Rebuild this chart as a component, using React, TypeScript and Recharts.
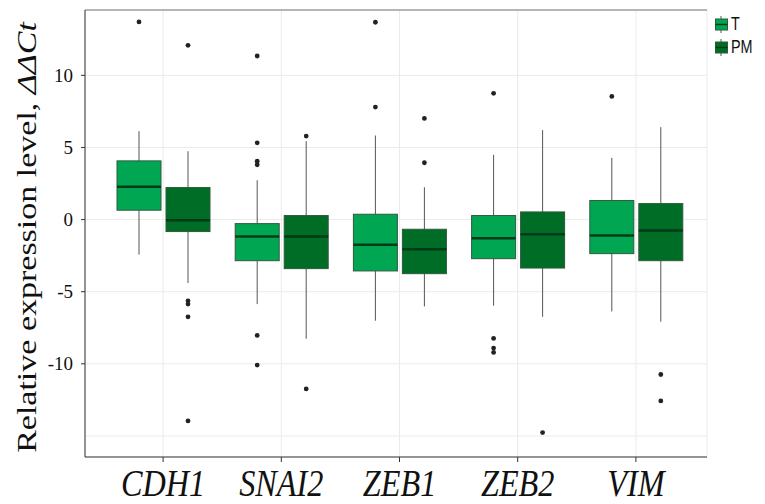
import React from 'react';
import { ComposedChart, Bar, XAxis, YAxis, CartesianGrid, ReferenceLine } from 'recharts';

const categories = ['CDH1', 'SNAI2', 'ZEB1', 'ZEB2', 'VIM'];

const tQ1 = [0.65, -2.85, -3.56, -2.71, -2.36];
const tMedian = [2.27, -1.18, -1.74, -1.3, -1.11];
const tQ3 = [4.07, -0.28, 0.37, 0.28, 1.32];
const tLow = [-2.43, -5.86, -7.01, -5.97, -6.37];
const tHigh = [6.13, 2.73, 5.83, 4.49, 4.28];
const tOutliers = [
  [13.7],
  [11.34, 5.32, 4.05, 3.8, -8.03, -10.09],
  [13.68, 7.8],
  [8.75, -8.24, -8.91, -9.21],
  [8.54],
];

const pmQ1 = [-0.83, -3.4, -3.75, -3.36, -2.85];
const pmMedian = [-0.05, -1.18, -2.06, -1.02, -0.76];
const pmQ3 = [2.22, 0.28, -0.67, 0.53, 1.11];
const pmLow = [-4.4, -8.26, -6.02, -6.74, -7.08];
const pmHigh = [4.74, 5.44, 2.24, 6.2, 6.41];
const pmOutliers = [
  [12.08, -5.63, -5.86, -6.74, -13.96],
  [5.79, -11.74],
  [7.01, 3.94],
  [-14.77],
  [-10.74, -12.57],
];

const yTicks = [-15, -10, -5, 0, 5, 10];
const yDomain = [-16.46, 14.53];
const seriesNames = ['T', 'PM'];

const T_FILL = '#00a651';
const PM_FILL = '#006d26';
const SERIF = 'Liberation Serif, Times New Roman, Times, serif';
const SANS = 'Liberation Sans, Arial, Helvetica, sans-serif';

const data = categories.map((name, i) => ({
  name,
  tRange: [tQ1[i], tQ3[i]],
  t: { q1: tQ1[i], median: tMedian[i], q3: tQ3[i], low: tLow[i], high: tHigh[i], outliers: tOutliers[i] },
  pmRange: [pmQ1[i], pmQ3[i]],
  pm: { q1: pmQ1[i], median: pmMedian[i], q3: pmQ3[i], low: pmLow[i], high: pmHigh[i], outliers: pmOutliers[i] },
}));

const makeBoxShape = (key: 't' | 'pm', fill: string) => (props: any) => {
  const { x, y, width, height, payload } = props;
  const s = payload[key];
  const top = Math.min(y, y + height);
  const h = Math.abs(height);
  const ppu = h / (s.q3 - s.q1);
  const py = (v: number) => top + (s.q3 - v) * ppu;
  const cx = x + width / 2;
  return (
    <g>
      <line x1={cx} x2={cx} y1={py(s.high)} y2={top} stroke="#555" strokeWidth={1} />
      <line x1={cx} x2={cx} y1={top + h} y2={py(s.low)} stroke="#555" strokeWidth={1} />
      <rect x={x} y={top} width={width} height={h} fill={fill} stroke="#2f5a3c" strokeWidth={1} />
      <line x1={x} x2={x + width} y1={py(s.median)} y2={py(s.median)} stroke="#003a18" strokeWidth={2.5} />
      {s.outliers.map((v: number, j: number) => (
        <circle key={j} cx={cx} cy={py(v)} r={2.4} fill="#222" />
      ))}
    </g>
  );
};

const YTick = (props: any) => {
  const { x, y, payload } = props;
  if (payload.value === -15) return null;
  const axisX = x + 4 + 8;
  return (
    <g>
      <line x1={axisX - 4} x2={axisX} y1={y} y2={y} stroke="#333" />
      <text x={x} y={y} dy="0.35em" textAnchor="end" fontFamily={SERIF} fontSize={19} fill="#111">
        {payload.value}
      </text>
    </g>
  );
};

const XTick = (props: any) => {
  const { x, y, payload } = props;
  return (
    <g transform={`translate(${x},${y + 34}) scale(0.85,1)`}>
      <text x={0} y={0} textAnchor="middle" fontFamily={SERIF} fontStyle="italic" fontSize={38} fill="#111">
        {payload.value}
      </text>
    </g>
  );
};

const YLabel = (props: any) => {
  const vb = props.viewBox || { x: 0, y: 10, width: 85, height: 447 };
  const cy = vb.y + vb.height / 2 + 4;
  return (
    <g transform={`translate(36,${cy}) rotate(-90) scale(1,0.78)`}>
      <text x={0} y={0} textAnchor="middle" fontFamily={SERIF} fontSize={34} fill="#111">
        <tspan>Relative expression level, </tspan>
        <tspan fontStyle="italic">ΔΔCt</tspan>
      </text>
    </g>
  );
};

const LegendKey = ({ y, fill, label }: { y: number; fill: string; label: string }) => (
  <g>
    <line x1={11} x2={11} y1={y - 3} y2={y + 14} stroke="#555" />
    <rect x={5.5} y={y} width={12} height={11} fill={fill} stroke="#2f5a3c" />
    <line x1={5.5} x2={17.5} y1={y + 5.5} y2={y + 5.5} stroke="#003a18" strokeWidth={1.5} />
    <g transform={`translate(21,${y + 11}) scale(0.8,1)`}>
      <text x={0} y={0} fontFamily={SANS} fontSize={18} fill="#111">
        {label}
      </text>
    </g>
  </g>
);

export default function App() {
  return (
    <div style={{ position: 'absolute', left: 0, top: 0, width: 765, height: 504, background: '#fff' }}>
      <ComposedChart width={765} height={504} data={data} margin={{ top: 10, right: 58, bottom: 0, left: 0 }} barGap={5}>
        <CartesianGrid stroke="#ebebeb" strokeWidth={1} />
        <XAxis
          dataKey="name"
          height={47}
          padding={{ left: 19, right: 12 }}
          tickSize={5}
          tickMargin={0}
          tickLine={{ stroke: '#333' }}
          axisLine={{ stroke: '#333' }}
          tick={<XTick />}
          interval={0}
        />
        <YAxis
          type="number"
          domain={yDomain}
          ticks={yTicks}
          allowDataOverflow
          width={85}
          tickSize={4}
          tickMargin={8}
          tickLine={false}
          axisLine={{ stroke: '#333' }}
          tick={<YTick />}
          label={{ content: <YLabel /> }}
        />
        <YAxis
          yAxisId="right"
          orientation="right"
          width={0}
          domain={[0, 1]}
          tick={false}
          tickLine={false}
          axisLine={{ stroke: '#333' }}
        />
        <ReferenceLine y={yDomain[1]} stroke="#777" strokeWidth={1} />
        <Bar dataKey="tRange" name={seriesNames[0]} barSize={44} fill={T_FILL} shape={makeBoxShape('t', T_FILL)} isAnimationActive={false} />
        <Bar dataKey="pmRange" name={seriesNames[1]} barSize={44} fill={PM_FILL} shape={makeBoxShape('pm', PM_FILL)} isAnimationActive={false} />
      </ComposedChart>
      <svg style={{ position: 'absolute', left: 710, top: 0 }} width={55} height={70}>
        <LegendKey y={19} fill={T_FILL} label={seriesNames[0]} />
        <LegendKey y={42} fill={PM_FILL} label={seriesNames[1]} />
      </svg>
    </div>
  );
}
